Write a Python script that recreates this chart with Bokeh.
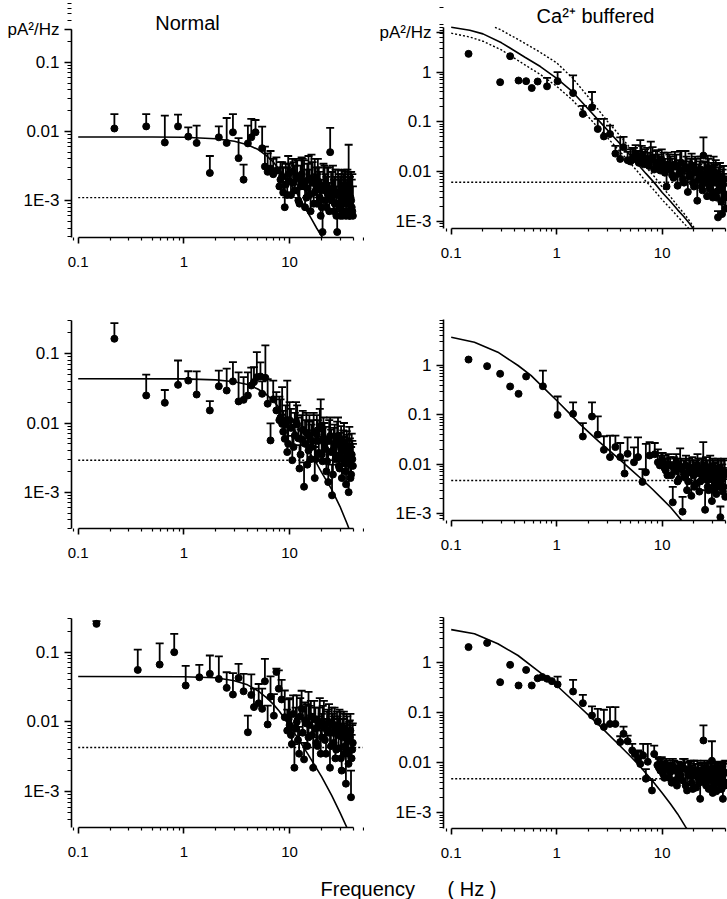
import math
from bokeh.plotting import figure
from bokeh.layouts import column, row
from bokeh.models import (ColumnDataSource, Whisker, TeeHead, FixedTicker,
                          CustomJSTickFormatter, Label, Range1d)
from bokeh.embed import file_html
from bokeh.resources import INLINE

FONT = "Liberation Sans"

# ---------------- data ----------------
BG_F = [0.1, 40.0]

# Normal, top
TL_freq = [0.22, 0.44, 0.66, 0.88, 1.10, 1.32, 1.76, 2.14, 2.54, 2.91, 3.29, 3.67, 4.03, 4.34, 4.76, 5.50, 5.84,
           6.2, 6.6, 7.0, 7.5, 8.0, 8.5, 9.0, 9.5, 10.0, 10.6, 11.2, 11.8, 12.4, 13.0, 13.7, 14.4, 15.1, 15.8,
           16.5, 17.3, 18.1, 18.9, 19.7, 20.5, 21.4, 22.3, 23.2, 24.2, 25.2, 26.2, 27.2, 28.2, 29.2, 30.2,
           31.2, 32.2, 33.2, 34.2, 35.2, 36.2, 37.2, 38.2, 39.2,
           8.2, 8.7, 9.2, 9.7, 10.3, 10.9, 11.5, 12.1, 12.7, 13.3, 14.0, 14.7, 15.4, 16.1, 16.9, 17.7, 18.5, 19.3,
           20.1, 20.9, 21.8, 22.7, 23.7, 24.7, 25.7, 26.7, 27.7, 28.7, 29.7, 30.7, 31.7, 32.7, 33.7, 34.7, 35.7,
           36.7, 37.7, 38.7, 39.7]
TL_psd = [0.0110, 0.0118, 0.0069, 0.0118, 0.0084, 0.0068, 0.0025, 0.0082, 0.0068, 0.0097, 0.0041, 0.0020, 0.0067,
          0.0082, 0.0097, 0.0057, 0.0031,
          0.0026, 0.0029, 0.0024, 0.0027, 0.0016, 0.0022, 0.0008, 0.0012, 0.0019, 0.0026, 0.0014, 0.0021, 0.0009,
          0.0024, 0.0016, 0.0011, 0.0020, 0.0007, 0.0018, 0.0013, 0.0009, 0.0016, 0.0006, 0.00035, 0.0014, 0.0008,
          0.0012, 0.0050, 0.0010, 0.0007, 0.0013, 0.00035, 0.0009, 0.0006, 0.0011, 0.0007, 0.0010, 0.0006, 0.0012,
          0.0009, 0.0006, 0.0010, 0.0007,
          0.0020, 0.0013, 0.0017, 0.0024, 0.0012, 0.0018, 0.0022, 0.0010, 0.0016, 0.0019, 0.0008, 0.0015, 0.0012,
          0.0021, 0.0009, 0.0014, 0.0019, 0.0011, 0.0008, 0.0016, 0.0010, 0.0013, 0.0007, 0.0011, 0.0015, 0.0009,
          0.0006, 0.0012, 0.0008, 0.0010, 0.0006, 0.0009, 0.0013, 0.0007, 0.0009, 0.0006, 0.0011, 0.0008, 0.0006]
TL_top = [0.0178, 0.0178, 0.0169, 0.0174, 0.0114, 0.0121, 0.0044, 0.0118, 0.0156, 0.0178, 0.0080, 0.0033, 0.0121,
          0.0151, 0.0146, 0.0117, 0.0060,
          0.0048, 0.0052, 0.0040, 0.0042, 0.0030, 0.0036, 0.0016, 0.0030, 0.0034, 0.0040, 0.0032, 0.0038, 0.0022,
          0.0042, 0.0038, 0.0028, 0.0044, 0.0020, 0.0036, 0.0040, 0.0024, 0.0030, 0.0018, 0.0008, 0.0032, 0.0022,
          0.0030, 0.0112, 0.0026, 0.0020, 0.0028, 0.0007, 0.0024, 0.0022, 0.0027, 0.0024, 0.0026, 0.0020, 0.0028,
          0.0064, 0.0022, 0.0026, 0.0024,
          0.0036, 0.0030, 0.0034, 0.0044, 0.0026, 0.0036, 0.0040, 0.0024, 0.0032, 0.0040, 0.0020, 0.0034, 0.0028,
          0.0046, 0.0022, 0.0030, 0.0040, 0.0026, 0.0020, 0.0034, 0.0024, 0.0030, 0.0018, 0.0026, 0.0032, 0.0022,
          0.0016, 0.0028, 0.0020, 0.0024, 0.0018, 0.0022, 0.0028, 0.0018, 0.0022, 0.0016, 0.0026, 0.0020, 0.0016]
TL_fit_f = [0.1, 0.5, 1, 2, 3, 4, 5, 6, 7, 8, 9, 10, 12, 14, 16, 18, 20.5, 22]
TL_fit_s = [0.0083, 0.0083, 0.0082, 0.0078, 0.0072, 0.0064, 0.0055, 0.0045, 0.0036, 0.0028, 0.0022, 0.0018,
            0.0012, 0.00078, 0.00055, 0.0004, 0.00029, 0.00024]
TL_bg = 0.0011

# Normal, middle
ML_freq = [0.22, 0.44, 0.66, 0.88, 1.10, 1.32, 1.76, 2.14, 2.54, 2.91, 3.29, 3.67, 4.03, 4.34, 4.60, 4.90, 5.30,
           5.50, 5.90,
           6.2, 6.6, 7.0, 7.5, 8.0, 8.5, 9.0, 9.5, 10.0, 10.6, 11.2, 11.8, 12.4, 13.0, 13.7, 14.4, 15.1, 15.8,
           16.5, 17.3, 18.1, 18.9, 19.7, 20.5, 21.4, 22.3, 23.2, 24.2, 25.2, 26.2, 27.2, 28.2, 29.2, 30.2,
           31.2, 32.2, 33.2, 34.2, 35.2, 36.2, 37.2, 38.2, 39.2,
           8.2, 8.7, 9.2, 9.7, 10.3, 10.9, 11.5, 12.1, 12.7, 13.3, 14.0, 14.7, 15.4, 16.1, 16.9, 17.7, 18.5, 19.3,
           20.1, 20.9, 21.8, 22.7, 23.7, 24.7, 25.7, 26.7, 27.7, 28.7, 29.7, 30.7, 31.7, 32.7, 33.7, 34.7, 35.7,
           36.7, 37.7, 38.7, 39.7]
ML_psd = [0.165, 0.025, 0.0196, 0.0356, 0.041, 0.0258, 0.0152, 0.034, 0.0295, 0.040, 0.0205, 0.0216, 0.025,
          0.0348, 0.039, 0.046, 0.047, 0.0264, 0.045,
          0.019, 0.0056, 0.022, 0.0152, 0.0110, 0.0097, 0.0059, 0.0038, 0.0110, 0.0029, 0.0066, 0.0095, 0.0022,
          0.0058, 0.0012, 0.0072, 0.0040, 0.0030, 0.0055, 0.0016, 0.0068, 0.0037, 0.0090, 0.0028, 0.0050, 0.0020,
          0.0014, 0.0065, 0.0009, 0.0042, 0.0030, 0.0055, 0.0024, 0.0035, 0.0016, 0.0040, 0.0026, 0.0013, 0.0032,
          0.0010, 0.0025, 0.0018, 0.0030,
          0.0120, 0.0075, 0.0095, 0.0050, 0.0085, 0.0045, 0.0105, 0.0060, 0.0035, 0.0080, 0.0050, 0.0025, 0.0065,
          0.0045, 0.0075, 0.0030, 0.0055, 0.0085, 0.0035, 0.0060, 0.0042, 0.0028, 0.0055, 0.0038, 0.0018, 0.0048,
          0.0033, 0.0062, 0.0022, 0.0045, 0.0030, 0.0052, 0.0020, 0.0038, 0.0027, 0.0045, 0.0016, 0.0035, 0.0024]
ML_top = [0.277, 0.050, 0.030, 0.080, 0.056, 0.0556, 0.0207, 0.057, 0.061, 0.076, 0.054, 0.046, 0.054, 0.063,
          0.064, 0.106, 0.075, 0.040, 0.132,
          0.043, 0.0099, 0.041, 0.028, 0.024, 0.033, 0.012, 0.041, 0.020, 0.0065, 0.014, 0.018, 0.0048, 0.013,
          0.0027, 0.014, 0.0105, 0.0072, 0.011, 0.0045, 0.013, 0.0085, 0.022, 0.0085, 0.010, 0.0060, 0.0040,
          0.012, 0.0025, 0.0085, 0.0068, 0.0105, 0.0060, 0.0072, 0.0045, 0.0078, 0.0062, 0.0040, 0.0068, 0.0030,
          0.0060, 0.0045, 0.0055,
          0.022, 0.015, 0.018, 0.011, 0.016, 0.0095, 0.020, 0.012, 0.0080, 0.015, 0.011, 0.0060, 0.013, 0.0095,
          0.014, 0.0068, 0.011, 0.016, 0.0075, 0.012, 0.0088, 0.0062, 0.011, 0.0080, 0.0042, 0.0095, 0.0070,
          0.012, 0.0050, 0.0090, 0.0064, 0.0100, 0.0045, 0.0076, 0.0058, 0.0088, 0.0036, 0.0070, 0.0050]
ML_fit_f = [0.1, 1, 2, 3, 4, 5, 6, 7, 8, 9, 10, 12, 15, 18, 20, 25, 30, 35, 37]
ML_fit_s = [0.0436, 0.0434, 0.042, 0.0395, 0.036, 0.031, 0.026, 0.021, 0.0165, 0.0130, 0.0102, 0.0067, 0.0040,
            0.0026, 0.00195, 0.00110, 0.00062, 0.00035, 0.00028]
ML_bg = 0.0029

# Normal, bottom
BL_freq = [0.149, 0.366, 0.59, 0.81, 1.04, 1.40, 1.76, 2.14, 2.54, 2.91, 3.29, 3.67, 4.03, 4.34, 4.60, 5.10,
           5.50, 5.84, 6.20, 6.60, 7.10, 7.50, 7.90, 8.40, 9.00,
           9.5, 10.0, 10.5, 11.1, 11.7, 12.3, 13.0, 13.7, 14.4, 15.1, 15.9, 16.7, 17.5, 18.4, 19.3, 20.2, 21.1,
           22.1, 23.1, 24.1, 25.1, 26.1, 27.1, 28.1, 29.1, 30.1, 31.1, 32.1, 33.1, 34.1, 35.1, 36.1, 37.1, 38.1,
           39.1,
           9.8, 10.3, 10.8, 11.4, 12.0, 12.6, 13.3, 14.0, 14.7, 15.5, 16.3, 17.1, 17.9, 18.8, 19.7, 20.6, 21.6,
           22.6, 23.6, 24.6, 25.6, 26.6, 27.6, 28.6, 29.6, 30.6, 31.6, 32.6, 33.6, 34.6, 35.6, 36.6, 37.6, 38.6,
           39.6]
BL_psd = [0.255, 0.0557, 0.0665, 0.100, 0.0333, 0.0437, 0.0489, 0.0414, 0.0308, 0.0247, 0.0428, 0.0275, 0.0071,
          0.0244, 0.0163, 0.0185, 0.0154, 0.0383, 0.0092, 0.023, 0.0123, 0.052, 0.030, 0.021, 0.0117,
          0.0075, 0.0090, 0.0048, 0.0022, 0.0100, 0.0035, 0.0155, 0.0029, 0.0095, 0.0060, 0.0120, 0.0022, 0.0080,
          0.0045, 0.0100, 0.0060, 0.0085, 0.0035, 0.0070, 0.0022, 0.0090, 0.0050, 0.0030, 0.0080, 0.0042, 0.0065,
          0.0020, 0.0075, 0.0035, 0.0013, 0.0055, 0.0025, 0.0060, 0.00083, 0.0040,
          0.0110, 0.0065, 0.0130, 0.0080, 0.0055, 0.0120, 0.0070, 0.0105, 0.0045, 0.0090, 0.0065, 0.0110, 0.0050,
          0.0085, 0.0035, 0.0095, 0.0055, 0.0075, 0.0100, 0.0045, 0.0070, 0.0090, 0.0040, 0.0065, 0.0085, 0.0030,
          0.0060, 0.0080, 0.0045, 0.0070, 0.0035, 0.0055, 0.0075, 0.0030, 0.0050]
BL_top = [0.28, 0.109, 0.134, 0.183, 0.0636, 0.066, 0.0896, 0.087, 0.0516, 0.050, 0.068, 0.049, 0.0123, 0.048,
          0.030, 0.035, 0.030, 0.080, 0.0171, 0.045, 0.025, 0.058, 0.055, 0.040, 0.0282,
          0.015, 0.022, 0.0090, 0.0048, 0.024, 0.0085, 0.028, 0.0050, 0.018, 0.027, 0.020, 0.0060, 0.016, 0.012,
          0.022, 0.013, 0.020, 0.010, 0.015, 0.0090, 0.016, 0.012, 0.0085, 0.014, 0.011, 0.014, 0.0060, 0.013,
          0.0095, 0.0040, 0.012, 0.0075, 0.0105, 0.0020, 0.0090,
          0.021, 0.013, 0.024, 0.016, 0.011, 0.022, 0.014, 0.019, 0.0095, 0.017, 0.013, 0.020, 0.010, 0.016,
          0.0075, 0.017, 0.011, 0.014, 0.018, 0.0095, 0.013, 0.016, 0.0085, 0.012, 0.015, 0.0065, 0.011, 0.014,
          0.0090, 0.013, 0.0075, 0.010, 0.013, 0.0065, 0.0095]
BL_fit_f = [0.1, 1, 2, 3, 4, 5, 6, 7, 8, 10, 12, 15, 20, 25, 30, 35, 37]
BL_fit_s = [0.0448, 0.0445, 0.043, 0.039, 0.034, 0.028, 0.0225, 0.018, 0.0142, 0.0088, 0.0058, 0.0034, 0.00165,
            0.00088, 0.00050, 0.00030, 0.00025]
BL_bg = 0.0043
BL_bg_f = [0.1, 49.0]

# Ca2+ buffered, top
TR_freq = [0.146, 0.291, 0.362, 0.435, 0.513, 0.58, 0.66, 0.81, 1.02, 1.43, 1.77, 2.16, 2.45, 2.8, 3.2, 3.6,
           4.0, 4.3, 4.7,
           5.0, 5.4, 5.8, 6.2, 6.7, 7.2, 7.8, 8.4, 9.0, 9.6, 10.3, 11.0, 11.7, 12.4, 13.2, 14.0, 14.8, 15.7,
           16.6, 17.5, 18.5, 19.5, 20.5, 21.5, 22.6, 23.6, 24.6, 25.6, 26.6, 27.6, 28.6, 29.7, 30.7, 31.7, 32.8,
           33.8, 34.8, 35.8, 36.9, 37.9, 38.9, 39.9,
           5.2, 5.6, 6.0, 6.4, 6.9, 7.5, 8.1, 8.7, 9.3, 9.9, 10.6, 11.3, 12.0, 12.8, 13.6, 14.4, 15.2, 16.1, 17.0,
           18.0, 19.0, 20.0, 21.0, 22.0, 23.1, 24.1, 25.1, 26.1, 27.1, 28.1, 29.1, 30.2, 31.2, 32.2, 33.3, 34.3,
           35.3, 36.3, 37.4, 38.4, 39.4]
TR_psd = [2.34, 0.63, 2.1, 0.68, 0.66, 0.48, 0.65, 0.52, 0.66, 0.38, 0.145, 0.197, 0.072, 0.051, 0.057, 0.023,
          0.018, 0.031, 0.017,
          0.016, 0.020, 0.017, 0.019, 0.014, 0.018, 0.017, 0.011, 0.015, 0.0105, 0.013, 0.0050, 0.012, 0.0085,
          0.0140, 0.0052, 0.010, 0.007, 0.0125, 0.0039, 0.009, 0.0060, 0.0110, 0.0026, 0.0080, 0.0050, 0.021,
          0.0070, 0.0032, 0.0095, 0.0045, 0.0039, 0.0085, 0.0060, 0.0030, 0.0012, 0.0070, 0.0045, 0.0014, 0.0055,
          0.0030, 0.0018,
          0.018, 0.022, 0.015, 0.021, 0.016, 0.013, 0.019, 0.0145, 0.012, 0.017, 0.0095, 0.014, 0.011, 0.0075,
          0.0125, 0.0090, 0.015, 0.0060, 0.011, 0.0080, 0.013, 0.0050, 0.0095, 0.0068, 0.011, 0.0042, 0.0085,
          0.0060, 0.012, 0.0050, 0.0075, 0.0030, 0.0065, 0.0095, 0.0040, 0.0060, 0.0080, 0.0025, 0.0055, 0.0070,
          0.0035]
TR_top = [None, None, None, None, None, None, None, 0.77, 1.0, 0.86, 0.21, 0.40, 0.115, 0.115, 0.084, 0.033,
          0.049, 0.050, 0.025,
          0.028, 0.030, 0.026, 0.043, 0.025, 0.030, 0.040, 0.022, 0.027, 0.020, 0.024, 0.012, 0.022, 0.018,
          0.025, 0.013, 0.026, 0.016, 0.026, 0.009, 0.018, 0.015, 0.020, 0.006, 0.016, 0.012, 0.049, 0.015,
          0.009, 0.018, 0.011, 0.0125, 0.020, 0.014, 0.0075, 0.0016, 0.015, 0.010, 0.0022, 0.013, 0.009, 0.0030,
          0.030, 0.034, 0.026, 0.033, 0.028, 0.024, 0.031, 0.026, 0.022, 0.028, 0.018, 0.024, 0.020, 0.015,
          0.022, 0.017, 0.026, 0.012, 0.020, 0.016, 0.023, 0.011, 0.018, 0.014, 0.020, 0.009, 0.016, 0.012,
          0.021, 0.011, 0.015, 0.007, 0.013, 0.017, 0.009, 0.012, 0.015, 0.006, 0.011, 0.013, 0.008]
TR_fit_f = [0.1, 0.15, 0.2, 0.3, 0.5, 0.7, 1.0, 1.4, 2.0, 3.0, 4.0, 5.0, 7.0, 8.4, 10, 12, 14, 16, 18, 20, 21.5]
TR_fit_s = [8.0, 7.0, 5.9, 3.9, 2.0, 1.3, 0.75, 0.41, 0.18, 0.070, 0.036, 0.021, 0.0092, 0.0060, 0.0038, 0.0025,
            0.0017, 0.00125, 0.00092, 0.00068, 0.00055]
TR_hi_f = [0.26, 0.3, 0.5, 0.7, 1.0, 1.4, 2.0, 3.0, 4.0, 5.0, 7.0, 8.4, 10, 12, 14, 16, 18, 20, 21.5]
TR_hi_s = [8.0, 7.0, 3.8, 2.5, 1.54, 0.78, 0.315, 0.105, 0.052, 0.0294, 0.0124, 0.0080, 0.0049, 0.0031, 0.00204,
           0.00146, 0.00105, 0.00075, 0.00060]
TR_lo_f = [0.1, 0.15, 0.2, 0.3, 0.5, 0.7, 1.0, 1.4, 2.0, 3.0, 4.0, 5.0, 7.0, 8.4, 10, 12, 14, 16, 18, 19.5]
TR_lo_s = [6.1, 5.1, 4.2, 2.8, 1.4, 0.9, 0.52, 0.28, 0.125, 0.049, 0.025, 0.0147, 0.0064, 0.0042, 0.0027, 0.0018,
           0.00125, 0.00092, 0.00070, 0.00058]
TR_bg = 0.0061

# Ca2+ buffered, middle
MR_freq = [0.146, 0.219, 0.291, 0.362, 0.435, 0.513, 0.74, 1.02, 1.43, 1.77, 2.16, 2.45, 2.8, 3.2, 3.6, 4.0,
           4.4, 4.7, 5.4, 5.9, 6.5, 7.0, 7.6, 8.5, 9.1,
           9.8, 10.5, 11.2, 11.9, 12.6, 13.3, 14.0, 14.8, 15.6, 16.4, 17.2, 18.0, 18.9, 19.8, 20.7, 21.6, 22.5,
           23.5, 24.5, 25.5, 26.5, 27.5, 28.5, 29.6, 30.6, 31.6, 32.6, 33.6, 34.6, 35.6, 36.6, 37.6, 38.6, 39.6,
           9.5, 10.1, 10.8, 11.5, 12.2, 12.9, 13.6, 14.4, 15.2, 16.0, 16.8, 17.6, 18.4, 19.3, 20.2, 21.1, 22.0,
           23.0, 24.0, 25.0, 26.0, 27.0, 28.0, 29.0, 30.1, 31.1, 32.1, 33.1, 34.1, 35.1, 36.1, 37.1, 38.1, 39.1]
MR_psd = [1.32, 0.97, 0.68, 0.376, 0.267, 0.60, 0.38, 0.10, 0.105, 0.0366, 0.093, 0.040, 0.0197, 0.014, 0.0223,
          0.014, 0.0065, 0.0163, 0.011, 0.014, 0.0044, 0.0069, 0.0151, 0.016, 0.011,
          0.0110, 0.0085, 0.0060, 0.0095, 0.0017, 0.0072, 0.0045, 0.0090, 0.0011, 0.0055, 0.0030, 0.0075, 0.0023,
          0.0060, 0.0040, 0.0095, 0.0028, 0.0065, 0.0055, 0.0012, 0.0048, 0.0030, 0.0082, 0.0018, 0.0055, 0.0040,
          0.0025, 0.0070, 0.0035, 0.00085, 0.0050, 0.0028, 0.0060, 0.0022,
          0.0095, 0.0120, 0.0075, 0.0100, 0.0060, 0.0085, 0.0110, 0.0050, 0.0080, 0.0065, 0.0095, 0.0045, 0.0070,
          0.0085, 0.0035, 0.0065, 0.0080, 0.0045, 0.0075, 0.0060, 0.0090, 0.0035, 0.0065, 0.0050, 0.0080, 0.0030,
          0.0060, 0.0045, 0.0075, 0.0040, 0.0065, 0.0050, 0.0035, 0.0070]
MR_top = [None, None, None, None, None, None, 0.79, 0.236, 0.18, 0.068, 0.18, 0.093, 0.037, 0.038, 0.038, 0.027,
          0.012, 0.035, 0.022, 0.035, 0.0080, 0.026, 0.028, 0.027, 0.020,
          0.017, 0.015, 0.013, 0.014, 0.0035, 0.013, 0.011, 0.021, 0.0022, 0.012, 0.0085, 0.013, 0.0060, 0.012,
          0.011, 0.016, 0.0075, 0.013, 0.028, 0.0030, 0.012, 0.0090, 0.015, 0.0060, 0.012, 0.0105, 0.0070, 0.013,
          0.0095, 0.0014, 0.012, 0.0085, 0.013, 0.0050,
          0.015, 0.017, 0.013, 0.016, 0.011, 0.014, 0.016, 0.010, 0.013, 0.012, 0.015, 0.0090, 0.012, 0.014,
          0.0075, 0.012, 0.013, 0.0090, 0.013, 0.011, 0.014, 0.0075, 0.012, 0.010, 0.013, 0.0065, 0.011, 0.0090,
          0.012, 0.0085, 0.012, 0.010, 0.0075, 0.012]
MR_fit_f = [0.1, 0.166, 0.277, 0.43, 0.57, 0.74, 1.0, 1.38, 1.7, 2.5, 3.8, 5.0, 6.6, 8.0, 10, 12, 14.6, 15.5]
MR_fit_s = [3.74, 2.96, 1.86, 1.0, 0.63, 0.365, 0.196, 0.098, 0.062, 0.029, 0.0135, 0.0080, 0.0047, 0.0032,
            0.0020, 0.00135, 0.00082, 0.00070]
MR_bg = 0.0047

# Ca2+ buffered, bottom
BR_freq = [0.146, 0.219, 0.291, 0.362, 0.435, 0.513, 0.58, 0.66, 0.73, 0.81, 0.90, 1.02, 1.43, 1.77, 2.16,
           2.45, 2.8, 3.2, 3.6, 4.0, 4.3, 4.7, 5.2, 5.5, 5.9, 6.2, 6.6, 7.0, 7.3, 8.0, 8.4,
           9.0, 9.6, 10.2, 10.9, 11.6, 12.3, 13.0, 13.8, 14.6, 15.4, 16.3, 17.2, 18.1, 19.0, 20.0, 21.0, 22.0,
           22.9, 23.9, 24.6, 25.6, 26.6, 27.6, 28.6, 29.6, 30.6, 31.6, 32.6, 33.6, 34.6, 35.6, 36.6, 37.6, 38.6,
           39.6,
           9.3, 9.9, 10.5, 11.2, 11.9, 12.6, 13.4, 14.2, 15.0, 15.8, 16.7, 17.6, 18.5, 19.5, 20.5, 21.5, 22.4,
           23.4, 24.3, 25.1, 26.1, 27.1, 28.1, 29.1, 30.1, 31.1, 32.1, 33.1, 34.1, 35.1, 36.1, 37.1, 38.1, 39.1]
BR_psd = [2.06, 2.5, 0.41, 0.91, 0.352, 0.72, 0.352, 0.49, 0.52, 0.48, 0.43, 0.37, 0.267, 0.156, 0.0885, 0.067,
          0.052, 0.060, 0.060, 0.026, 0.038, 0.027, 0.0177, 0.015, 0.012, 0.0095, 0.014, 0.0048, 0.0105, 0.0028,
          0.015,
          0.0090, 0.0070, 0.0060, 0.0085, 0.0050, 0.0040, 0.0070, 0.0035, 0.0060, 0.0045, 0.0075, 0.0028, 0.0055,
          0.0040, 0.0065, 0.0032, 0.0050, 0.0019, 0.0060, 0.028, 0.0040, 0.0055, 0.0030, 0.0065, 0.0110, 0.0035,
          0.0050, 0.0027, 0.0060, 0.0040, 0.0055, 0.0030, 0.0019, 0.0065, 0.0040,
          0.0080, 0.0095, 0.0050, 0.0075, 0.0065, 0.0085, 0.0045, 0.0070, 0.0055, 0.0080, 0.0035, 0.0060, 0.0075,
          0.0030, 0.0055, 0.0070, 0.0040, 0.0065, 0.0050, 0.0075, 0.0035, 0.0060, 0.0045, 0.0070, 0.0025, 0.0055,
          0.0065, 0.0040, 0.0070, 0.0030, 0.0055, 0.0045, 0.0060, 0.0035]
BR_top = [None, None, None, None, None, None, None, None, None, None, None, 0.53, 0.457, 0.229, 0.134, 0.12,
          0.115, 0.13, 0.13, 0.034, 0.053, 0.035, 0.024, None, 0.0177, 0.0165, 0.024, 0.0075, 0.024, 0.0045,
          0.022,
          0.013, 0.012, 0.0105, 0.012, 0.010, 0.0095, 0.011, 0.0090, 0.0100, 0.0095, 0.012, 0.0070, 0.0105,
          0.0090, 0.0110, 0.0080, 0.0095, 0.0045, 0.0100, 0.056, 0.0090, 0.0100, 0.0080, 0.0105, 0.027, 0.0085,
          0.0095, 0.0070, 0.0100, 0.0090, 0.0100, 0.0075, 0.0045, 0.0105, 0.0110,
          0.012, 0.013, 0.0090, 0.011, 0.010, 0.012, 0.0085, 0.0105, 0.0095, 0.012, 0.0070, 0.010, 0.011, 0.0065,
          0.0095, 0.011, 0.0080, 0.010, 0.0090, 0.011, 0.0070, 0.0095, 0.0085, 0.0105, 0.0055, 0.0090, 0.0100,
          0.0080, 0.0105, 0.0065, 0.0090, 0.0085, 0.0095, 0.0070]
BR_fit_f = [0.1, 0.166, 0.277, 0.43, 0.66, 1.0, 1.6, 2.45, 3.8, 5.0, 6.0, 7.0, 8.0, 10, 12, 14, 16.6, 17.5]
BR_fit_s = [4.6, 3.8, 2.4, 1.4, 0.70, 0.352, 0.14, 0.060, 0.024, 0.0135, 0.0090, 0.0062, 0.0045, 0.0025, 0.0015,
            0.00095, 0.00053, 0.00045]
BR_bg = 0.0048

X_TICKS = [0.1, 1.0, 10.0]
Y_TICKS = [1e-3, 1e-2, 1e-1, 1.0]
MINOR = [m * 10.0 ** e for e in range(-4, 2) for m in range(2, 10)]
UNIT = "pA\u00b2/Hz"

FMT_CODE = """
if (unit > 0 && Math.abs(tick / unit - 1) < 1e-6) { return label; }
const e = Math.round(Math.log10(tick));
if (e <= -3) { return "1E" + e; }
if (e >= 0) { return String(Math.round(tick)); }
return tick.toFixed(-e);
"""


def panel(fig_left, fig_top, w, h, frame_left, frame_top, frame_bot, x01_px, x_dec,
          y_ref_val, y_ref_px, y_dec, y_axis_top=None, unit_tick=0.0):
    """All positions are page pixels, used only to place the frame like the reference."""
    xs = 10 ** (-1 - (x01_px - frame_left) / x_dec)
    xe = 10 ** (-1 + (fig_left + w - x01_px) / x_dec)
    lg = math.log10(y_ref_val)
    ylo = 10 ** (lg - (frame_bot - y_ref_px) / y_dec)
    yhi = 10 ** (lg + (y_ref_px - frame_top) / y_dec)
    p = figure(width=w, height=h, x_axis_type="log", y_axis_type="log",
               x_range=Range1d(xs, xe), y_range=Range1d(ylo, yhi),
               output_backend="svg", toolbar_location=None,
               min_border_left=frame_left - fig_left, min_border_right=0,
               min_border_top=frame_top - fig_top, min_border_bottom=fig_top + h - frame_bot)
    p.outline_line_color = None
    p.grid.visible = False
    p.background_fill_color = "white"
    p.border_fill_color = "white"

    xa = p.xaxis[0]
    xa.ticker = FixedTicker(ticks=X_TICKS, minor_ticks=MINOR)
    xa.formatter = CustomJSTickFormatter(args=dict(unit=0.0, label=UNIT), code=FMT_CODE)
    xa.bounds = (0.1, 40.0)
    xa.major_tick_in = 0
    xa.major_tick_out = 6
    xa.minor_tick_in = 0
    xa.minor_tick_out = 3
    xa.major_label_standoff = 13
    xa.major_label_text_font_size = "15px"

    ya = p.yaxis[0]
    yt = list(Y_TICKS) + ([unit_tick] if unit_tick > 0 else [])
    ya.ticker = FixedTicker(ticks=yt, minor_ticks=MINOR)
    ya.formatter = CustomJSTickFormatter(args=dict(unit=unit_tick, label=UNIT), code=FMT_CODE)
    if y_axis_top is not None:
        ya.bounds = (ylo, y_axis_top)
    ya.major_tick_in = 0
    ya.major_tick_out = 7
    ya.minor_tick_in = 0
    ya.minor_tick_out = 4
    ya.major_label_standoff = 5
    ya.major_label_text_font_size = "17px"

    for ax in (xa, ya):
        ax.axis_line_width = 1.6
        ax.axis_line_color = "black"
        ax.major_tick_line_width = 1.6
        ax.major_tick_line_color = "black"
        ax.minor_tick_line_width = 1.2
        ax.minor_tick_line_color = "black"
        ax.major_label_text_font = FONT
        ax.major_label_text_color = "black"
    return p, xs, yhi


def draw(p, freq, psd, top, fit_f, fit_s, bg, bg_f):
    p.line(bg_f, [bg, bg], line_dash="2 2", line_width=1.4, color="black")
    p.line(fit_f, fit_s, line_width=1.6, color="black")
    pts = ColumnDataSource(dict(f=freq, s=psd))
    p.scatter(x="f", y="s", source=pts, size=7, color="black")
    ef = [f for f, t in zip(freq, top) if t is not None]
    es = [s for s, t in zip(psd, top) if t is not None]
    et = [t for t in top if t is not None]
    bars = ColumnDataSource(dict(f=ef, s=es, t=et))
    p.add_layout(Whisker(source=bars, base="f", lower="s", upper="t", dimension="height",
                         line_width=1.8, line_color="black", lower_head=None,
                         upper_head=TeeHead(size=8, line_width=1.8, line_color="black")))


# left column: page x 0..364, frame from 71; right column: 364..727, frame from 443
LX = dict(fig_left=0, w=364, frame_left=71, x01_px=77.7, x_dec=105.7)
RX = dict(fig_left=364, w=363, frame_left=443, x01_px=450.7, x_dec=105.5)

TL, tlx, tly = panel(fig_top=0, h=290, frame_top=0, frame_bot=237, y_ref_val=0.1, y_ref_px=61.7, y_dec=69.15,
                     y_axis_top=0.3, unit_tick=0.3, **LX)
TR, trx, try_ = panel(fig_top=0, h=290, frame_top=0, frame_bot=228, y_ref_val=1.0, y_ref_px=71.7, y_dec=49.7,
                      y_axis_top=8.0, unit_tick=6.3, **RX)
ML, _, _ = panel(fig_top=290, h=300, frame_top=320, frame_bot=528, y_ref_val=0.1, y_ref_px=353.3, y_dec=69.2, **LX)
MR, _, _ = panel(fig_top=290, h=300, frame_top=319, frame_bot=520, y_ref_val=1.0, y_ref_px=365.0, y_dec=49.4, **RX)
BL, _, _ = panel(fig_top=590, h=278, frame_top=618, frame_bot=827, y_ref_val=0.1, y_ref_px=651.7, y_dec=69.7, **LX)
BR, _, _ = panel(fig_top=590, h=278, frame_top=617, frame_bot=828, y_ref_val=1.0, y_ref_px=662.3, y_dec=50.0, **RX)

draw(TL, TL_freq, TL_psd, TL_top, TL_fit_f, TL_fit_s, TL_bg, BG_F)
draw(ML, ML_freq, ML_psd, ML_top, ML_fit_f, ML_fit_s, ML_bg, BG_F)
draw(BL, BL_freq, BL_psd, BL_top, BL_fit_f, BL_fit_s, BL_bg, BL_bg_f)
draw(TR, TR_freq, TR_psd, TR_top, TR_fit_f, TR_fit_s, TR_bg, BG_F)
TR.line(TR_hi_f, TR_hi_s, line_dash="2 2", line_width=1.4, color="black")
TR.line(TR_lo_f, TR_lo_s, line_dash="2 2", line_width=1.4, color="black")
draw(MR, MR_freq, MR_psd, MR_top, MR_fit_f, MR_fit_s, MR_bg, BG_F)
draw(BR, BR_freq, BR_psd, BR_top, BR_fit_f, BR_fit_s, BR_bg, BG_F)

# column titles, placed inside the (extended) top frames
TL.add_layout(Label(x=tlx, y=tly, x_offset=187 - 71, y_offset=-22, text="Normal", text_font=FONT,
                    text_font_size="20px", text_align="center", text_baseline="middle", text_color="black"))
TR.add_layout(Label(x=trx, y=try_, x_offset=595 - 443, y_offset=-15, text="Ca\u00b2\u207a buffered",
                    text_font=FONT, text_font_size="20px", text_align="center", text_baseline="middle",
                    text_color="black"))

# bottom caption strip (page pixels 868..899)
T = figure(width=727, height=31, x_range=Range1d(0, 727), y_range=Range1d(899, 868),
           output_backend="svg", toolbar_location=None, min_border=0,
           x_axis_location=None, y_axis_location=None)
T.outline_line_color = None
T.grid.visible = False
T.add_layout(Label(x=320, y=888, text="Frequency", text_font=FONT, text_font_size="20px",
                   text_align="left", text_baseline="middle", text_color="black"))
T.add_layout(Label(x=447, y=888, text="( Hz )", text_font=FONT, text_font_size="20px",
                   text_align="left", text_baseline="middle", text_color="black"))

layout = column(row(column(TL), column(TR)), row(column(ML), column(MR)), row(column(BL), column(BR)), T)
open("out.html", "w").write(file_html(layout, INLINE))
